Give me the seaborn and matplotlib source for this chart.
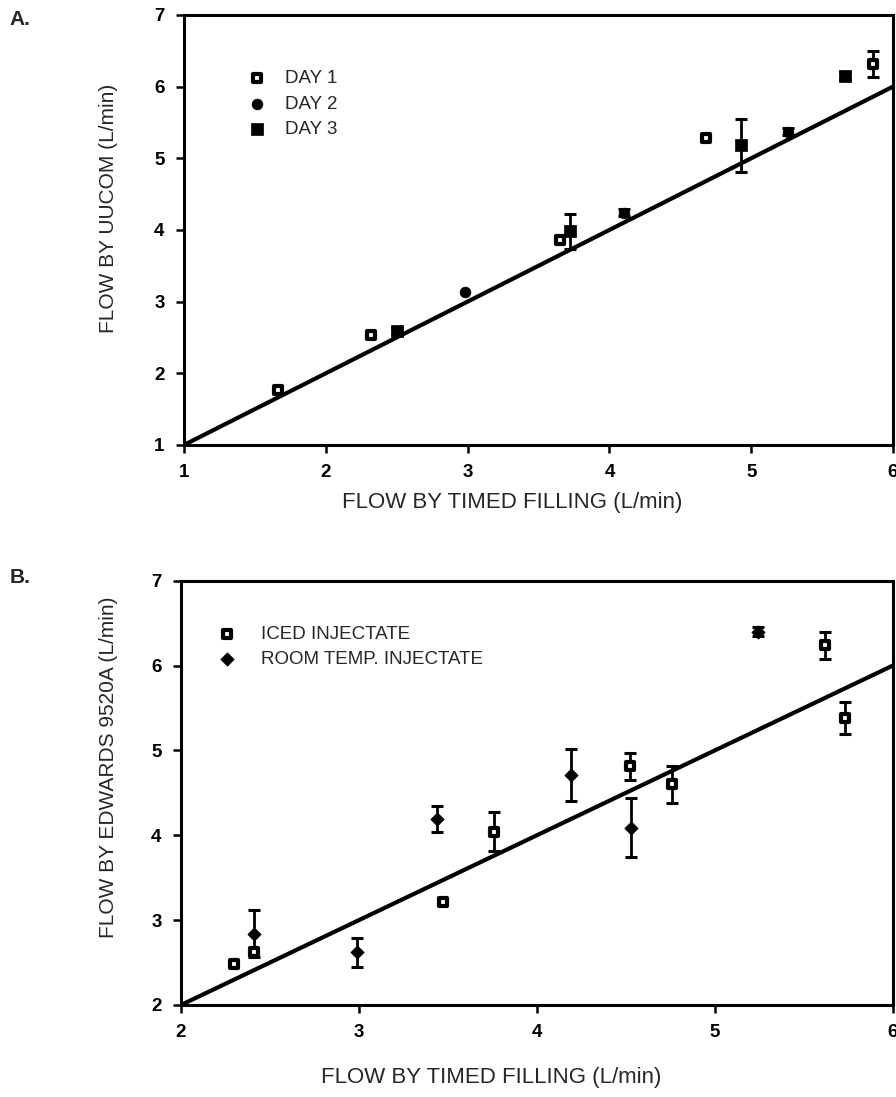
import numpy as np
import pandas as pd
import matplotlib
matplotlib.use("Agg")
import matplotlib.pyplot as plt
import seaborn as sns

# ---- panel A data (UUCOM vs timed filling) ----
day1_x = [1.66, 2.32, 3.65, 4.68, 5.86]
day1_y = [1.77, 2.54, 3.86, 5.28, 6.32]
day1_err = [0.0, 0.0, 0.0, 0.0, 0.18]

day2_x = [2.98, 4.10, 5.26]
day2_y = [3.13, 4.24, 5.37]
day2_err = [0.0, 0.05, 0.05]

day3_x = [2.50, 3.72, 4.93, 5.66]
day3_y = [2.59, 3.98, 5.18, 6.15]
day3_err = [0.04, 0.24, 0.37, 0.05]

# ---- panel B data (Edwards 9520A vs timed filling) ----
iced_x = [2.30, 2.41, 3.47, 3.76, 4.52, 4.76, 5.62, 5.73]
iced_y = [2.48, 2.62, 3.21, 4.04, 4.81, 4.60, 6.24, 5.38]
iced_err = [0.0, 0.0, 0.0, 0.23, 0.16, 0.22, 0.16, 0.19]

room_x = [2.41, 2.99, 3.44, 4.19, 4.53, 5.24]
room_y = [2.84, 2.62, 4.19, 4.71, 4.09, 6.40]
room_err = [0.28, 0.17, 0.15, 0.31, 0.35, 0.05]

sns.set_theme(style="ticks")
plt.rcParams['font.family'] = ['Liberation Sans', 'DejaVu Sans']

fig = plt.figure(figsize=(8.96, 10.97), dpi=100)
axA = fig.add_axes([0.2054, 0.5944, 0.7913, 0.392])
axB = fig.add_axes([0.202, 0.0839, 0.7946, 0.3868])


def draw_series(ax, xs, ys, errs, marker, face, label, size, lw):
    df = pd.DataFrame({'x': xs, 'y': ys, 'err': errs})
    e = df[df['err'] > 0]
    ax.errorbar(e['x'], e['y'], yerr=e['err'], fmt='none', ecolor='black',
                elinewidth=2, capsize=4, capthick=2.2, zorder=3)
    sns.scatterplot(data=df, x='x', y='y', ax=ax, marker=marker, s=size,
                    facecolor=face, edgecolor='black', linewidth=lw,
                    label=label, zorder=4)


def style_axis(ax, lo, hi):
    ax.set_xlim(lo, 6)
    ax.set_ylim(hi, 7)
    ax.set_xticks(range(lo, 7))
    ax.set_yticks(range(hi, 8))
    for sp in ax.spines.values():
        sp.set_visible(True)
        sp.set_linewidth(2.2)
        sp.set_color('black')
    ax.tick_params(direction='out', length=6, width=1.8, colors='black',
                   labelsize=13.5, pad=8)
    for t in ax.get_xticklabels() + ax.get_yticklabels():
        t.set_fontweight('bold')
    ax.set_xlabel('FLOW BY TIMED FILLING (L/min)', fontsize=16)


# panel A
sns.lineplot(x=[1, 6], y=[1, 6], ax=axA, color='black', linewidth=3, zorder=2)
draw_series(axA, day1_x, day1_y, day1_err, 's', 'white', 'DAY 1', 30, 3.0)
draw_series(axA, day2_x, day2_y, day2_err, 'o', 'black', 'DAY 2', 60, 0.5)
draw_series(axA, day3_x, day3_y, day3_err, 's', 'black', 'DAY 3', 66, 0.5)
style_axis(axA, 1, 1)
axA.set_ylabel('FLOW BY UUCOM (L/min)', fontsize=15)
axA.xaxis.set_label_coords(0.463, -0.11)
axA.yaxis.set_label_coords(-0.093, 0.549)
axA.legend(loc='upper left', bbox_to_anchor=(0.089, 0.872), frameon=False,
           fontsize=13.5, handlelength=1.0, handletextpad=1.0,
           labelspacing=0.45, borderpad=0, borderaxespad=0)

# panel B
sns.lineplot(x=[2, 6], y=[2, 6], ax=axB, color='black', linewidth=3, zorder=2)
draw_series(axB, iced_x, iced_y, iced_err, 's', 'white', 'ICED INJECTATE', 30, 3.0)
draw_series(axB, room_x, room_y, room_err, 'D', 'black', 'ROOM TEMP. INJECTATE', 46, 0.5)
style_axis(axB, 2, 2)
axB.set_ylabel('FLOW BY EDWARDS 9520A (L/min)', fontsize=15)
axB.xaxis.set_label_coords(0.435, -0.147)
axB.yaxis.set_label_coords(-0.088, 0.561)
axB.legend(loc='upper left', bbox_to_anchor=(0.052, 0.894), frameon=False,
           fontsize=13.5, handlelength=1.0, handletextpad=1.3,
           labelspacing=0.45, borderpad=0, borderaxespad=0)

fig.text(0.011, 0.982, 'A.', fontsize=15, fontweight='bold', va='center', ha='left')
fig.text(0.011, 0.474, 'B.', fontsize=15, fontweight='bold', va='center', ha='left')

fig.savefig('out.png', dpi=100, facecolor='white')
